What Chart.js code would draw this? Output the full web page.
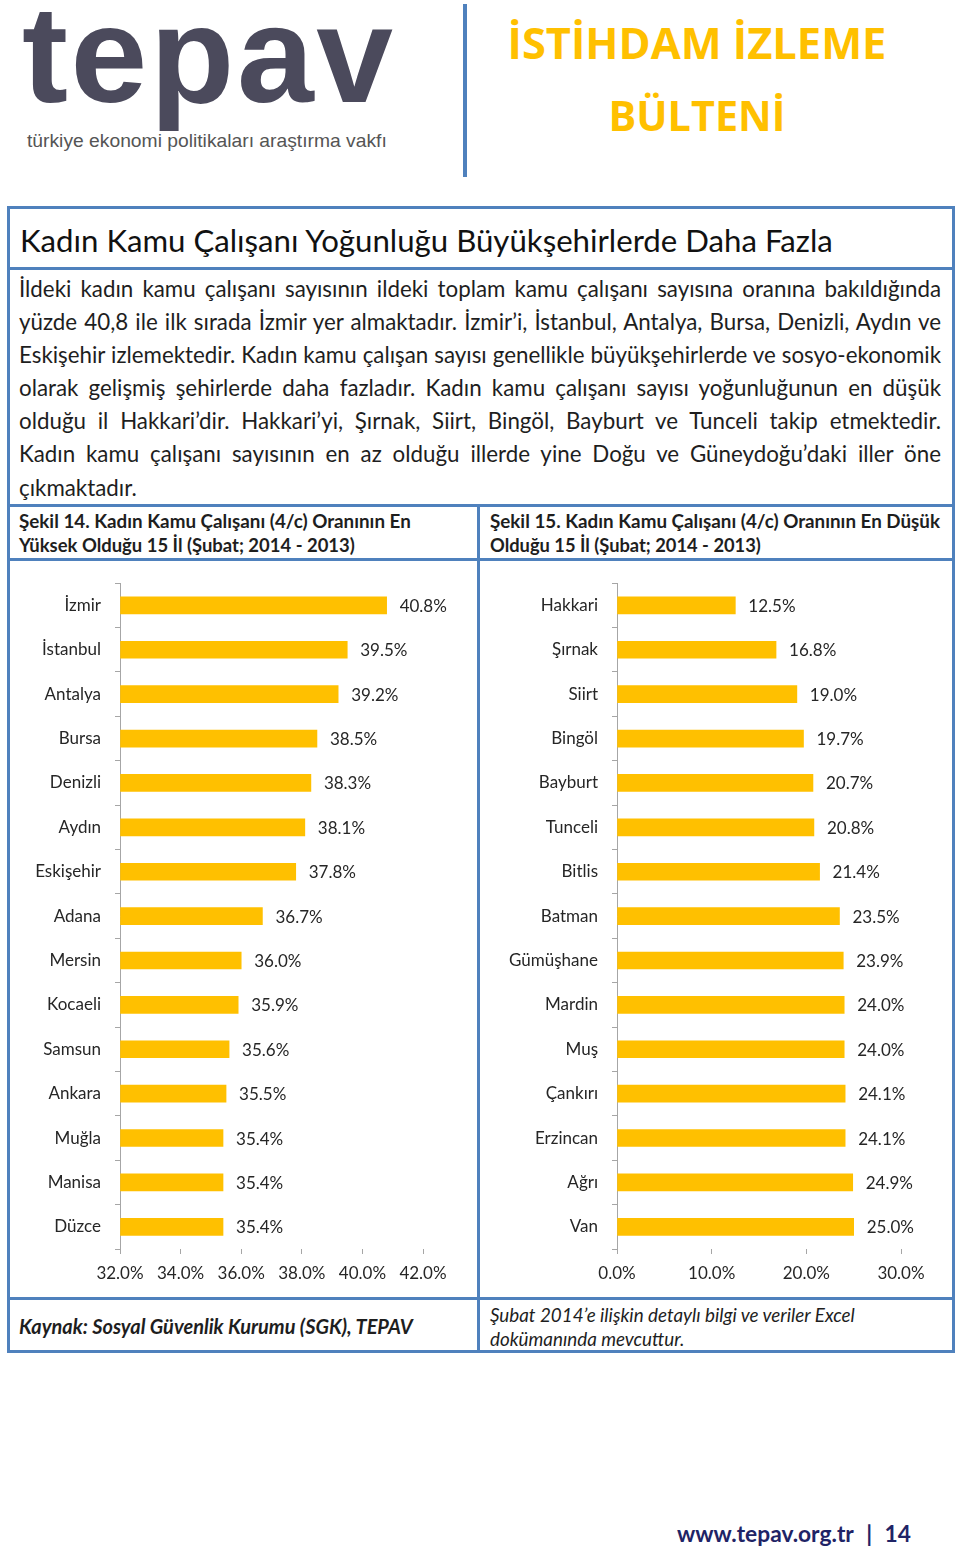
<!DOCTYPE html>
<html><head><meta charset="utf-8">
<script src="https://cdn.jsdelivr.net/npm/chart.js@4.4.1/dist/chart.umd.min.js"></script>
<style>
html,body{margin:0;padding:0;background:#fff;}
body{width:960px;height:1549px;position:relative;overflow:hidden;font-family:Lato,'Open Sans',sans-serif;color:#1a1a1a;}
.abs{position:absolute;white-space:nowrap;}
.hl{position:absolute;background:#4f81bd;}
.bl{position:absolute;left:19px;width:922px;height:33px;line-height:33px;font-size:20px;white-space:nowrap;color:#1e1e1e;}
.cap{position:absolute;font-weight:bold;font-size:18px;line-height:25px;white-space:nowrap;color:#1e1e1e;}
canvas{position:absolute;}
</style></head><body>

<div class="abs" id="logo" data-w="371" data-mode="ls" style="left:22px;top:-15px;font:bold 138px/138px 'Liberation Sans',Arial,sans-serif;color:#4b4a5c;">tepav</div>
<div class="abs" id="logosub" data-w="360" data-mode="fs" style="left:27px;top:131px;font:16px/20px 'Liberation Sans',Arial,sans-serif;color:#555;">türkiye ekonomi politikaları araştırma vakfı</div>
<div class="hl" style="left:463px;top:4px;width:4px;height:173px;"></div>
<div class="abs" data-w="379" data-mode="fs" data-center="697" style="top:16px;height:54px;font:bold 45px/54px 'Open Sans',sans-serif;color:#FFC000;">İSTİHDAM İZLEME</div>
<div class="abs" data-w="177" data-mode="fs" data-center="697" style="top:88px;height:54px;font:bold 45px/54px 'Open Sans',sans-serif;color:#FFC000;">BÜLTENİ</div>

<!-- frame -->
<div style="position:absolute;left:7px;top:206px;width:942px;height:1141px;border:3px solid #4f81bd;"></div>
<div class="hl" style="left:7px;top:267px;width:948px;height:3px;"></div>
<div class="hl" style="left:7px;top:504px;width:948px;height:3px;"></div>
<div class="hl" style="left:7px;top:558px;width:948px;height:3px;"></div>
<div class="hl" style="left:7px;top:1297px;width:948px;height:3px;"></div>
<div class="hl" style="left:477px;top:505px;width:3px;height:847px;"></div>

<div class="abs" data-w="813" data-mode="fs" style="left:20px;top:221px;height:38px;font-size:29px;line-height:38px;color:#111;">Kadın Kamu Çalışanı Yoğunluğu Büyükşehirlerde Daha Fazla</div>

<div id="body">
<div class="bl j" style="top:272px;">İldeki kadın kamu çalışanı sayısının ildeki toplam kamu çalışanı sayısına oranına bakıldığında</div>
<div class="bl j" style="top:305px;">yüzde 40,8 ile ilk sırada İzmir yer almaktadır. İzmir’i, İstanbul, Antalya, Bursa, Denizli, Aydın ve</div>
<div class="bl j" style="top:338px;">Eskişehir izlemektedir. Kadın kamu çalışan sayısı genellikle büyükşehirlerde ve sosyo-ekonomik</div>
<div class="bl j" style="top:371px;">olarak gelişmiş şehirlerde daha fazladır. Kadın kamu çalışanı sayısı yoğunluğunun en düşük</div>
<div class="bl j" style="top:404px;">olduğu il Hakkari’dir. Hakkari’yi, Şırnak, Siirt, Bingöl, Bayburt ve Tunceli takip etmektedir.</div>
<div class="bl j" style="top:437px;">Kadın kamu çalışanı sayısının en az olduğu illerde yine Doğu ve Güneydoğu’daki iller öne</div>
<div class="bl" style="top:471px;">çıkmaktadır.</div>
</div>

<div class="cap" data-w="392" data-mode="fs" style="left:19px;top:508px;">Şekil 14. Kadın Kamu Çalışanı (4/c) Oranının En</div>
<div class="cap" data-w="336" data-mode="fs" style="left:19px;top:533px;">Yüksek Olduğu 15 İl (Şubat; 2014 - 2013)</div>
<div class="cap" data-w="450" data-mode="fs" style="left:490px;top:508px;">Şekil 15. Kadın Kamu Çalışanı (4/c) Oranının En Düşük</div>
<div class="cap" data-w="271" data-mode="fs" style="left:490px;top:533px;">Olduğu 15 İl (Şubat; 2014 - 2013)</div>

<canvas id="c1" width="467" height="736" style="left:10px;top:559px;"></canvas>
<canvas id="c2" width="468" height="736" style="left:482px;top:559px;"></canvas>

<div class="cap" data-w="394" data-mode="fs" style="left:19px;top:1314px;font-style:italic;">Kaynak: Sosyal Güvenlik Kurumu (SGK), TEPAV</div>
<div class="cap" data-w="365" data-mode="fs" style="left:490px;top:1302px;font-weight:normal;font-style:italic;">Şubat 2014’e ilişkin detaylı bilgi ve veriler Excel</div>
<div class="cap" id="note2" style="left:490px;top:1326px;font-weight:normal;font-style:italic;">dokümanında mevcuttur.</div>

<div class="abs" data-w="234" data-mode="fs" style="left:677px;top:1520px;font-weight:bold;font-size:21px;line-height:28px;color:#1f2466;">www.tepav.org.tr<span style="display:inline-block;width:1.35em;text-align:center;">|</span>14</div>

<script>
// ---- data ----
const topCities = ['İzmir','İstanbul','Antalya','Bursa','Denizli','Aydın','Eskişehir','Adana','Mersin','Kocaeli','Samsun','Ankara','Muğla','Manisa','Düzce'];
const topValues = [40.8,39.5,39.2,38.5,38.3,38.1,37.8,36.7,36.0,35.9,35.6,35.5,35.4,35.4,35.4];
const topAxisMin = 32, topAxisMax = 42, topAxisStep = 2;

const lowCities = ['Hakkari','Şırnak','Siirt','Bingöl','Bayburt','Tunceli','Bitlis','Batman','Gümüşhane','Mardin','Muş','Çankırı','Erzincan','Ağrı','Van'];
const lowValues = [12.5,16.8,19.0,19.7,20.7,20.8,21.4,23.5,23.9,24.0,24.0,24.1,24.1,24.9,25.0];
const lowAxisMin = 0, lowAxisMax = 30, lowAxisStep = 10;

// ---- text fitting ----
document.querySelectorAll('[data-w]').forEach(el => {
  const target = +el.dataset.w;
  const w = el.getBoundingClientRect().width;
  if (el.dataset.mode === 'ls') {
    const n = el.textContent.length;
    el.style.letterSpacing = ((target - w) / (n - 1)) + 'px';
  } else {
    const fs = parseFloat(getComputedStyle(el).fontSize);
    el.style.fontSize = (fs * target / w) + 'px';
  }
  if (el.dataset.center) {
    const w2 = el.getBoundingClientRect().width;
    el.style.left = (+el.dataset.center - w2 / 2) + 'px';
  }
});
(function(){
  const caps = document.querySelectorAll('.cap');
  const first = caps[caps.length - 2];
  document.getElementById('note2').style.fontSize = first.style.fontSize;
})();
// body paragraph: scale so the widest line fills the column, then justify
(function(){
  const lines = document.querySelectorAll('#body .bl');
  let maxW = 0;
  lines.forEach(l => { const s = document.createElement('span'); s.textContent = l.textContent; l.textContent=''; l.appendChild(s); maxW = Math.max(maxW, s.getBoundingClientRect().width); });
  const fs = 20 * 920 / maxW;
  lines.forEach(l => {
    l.style.fontSize = fs + 'px';
    if (l.classList.contains('j')) {
      const s = l.firstChild;
      const w = s.getBoundingClientRect().width;
      const spaces = (s.textContent.match(/ /g) || []).length;
      s.style.wordSpacing = ((922 - w) / spaces) + 'px';
    }
  });
})();

// ---- charts ----
Chart.defaults.font.family = 'Lato';
Chart.defaults.color = '#262626';
const valueLabels = {
  id: 'valueLabels',
  afterDatasetsDraw(chart) {
    const ctx = chart.ctx;
    ctx.save();
    ctx.font = '17px Lato';
    ctx.fillStyle = '#262626';
    ctx.textAlign = 'left';
    ctx.textBaseline = 'middle';
    chart.getDatasetMeta(0).data.forEach((el, i) => {
      const v = chart.data.datasets[0].data[i];
      ctx.fillText(v.toFixed(1) + '%', el.x + 13, el.y + 1);
    });
    ctx.restore();
  }
};
function makeChart(id, cats, vals, xmin, xmax, step, yWidth, padRight) {
  return new Chart(document.getElementById(id), {
    type: 'bar',
    data: { labels: cats, datasets: [{ data: vals, backgroundColor: '#FFC000', base: xmin, clip: 0, barThickness: 17, borderWidth: 0 }] },
    options: {
      indexAxis: 'y', responsive: false, animation: false,
      layout: { padding: { top: 12, right: padRight, left: 0, bottom: 0 } },
      plugins: { legend: { display: false }, tooltip: { enabled: false } },
      scales: {
        y: {
          grid: { display: true, drawOnChartArea: false, drawTicks: true, tickLength: 5, offset: true, color: '#a6a6a6', lineWidth: 1 },
          border: { display: true, color: '#a6a6a6' },
          ticks: { padding: 14, color: '#262626', font: { size: 17 }, autoSkip: false },
          afterFit: s => { s.width = yWidth; }
        },
        x: {
          min: xmin, max: xmax,
          ticks: { stepSize: step, padding: 9, color: '#262626', font: { size: 17 }, maxRotation: 0, autoSkip: false, callback: v => Number(v).toFixed(1) + '%' },
          grid: { display: true, drawOnChartArea: false, drawTicks: true, tickLength: 5, color: '#a6a6a6' },
          border: { display: false },
          afterFit: s => { s.height = 46; }
        }
      }
    },
    plugins: [valueLabels]
  });
}
makeChart('c1', topCities, topValues, topAxisMin, topAxisMax, topAxisStep, 110, 54);
makeChart('c2', lowCities, lowValues, lowAxisMin, lowAxisMax, lowAxisStep, 135, 49);
</script>
</body></html>
